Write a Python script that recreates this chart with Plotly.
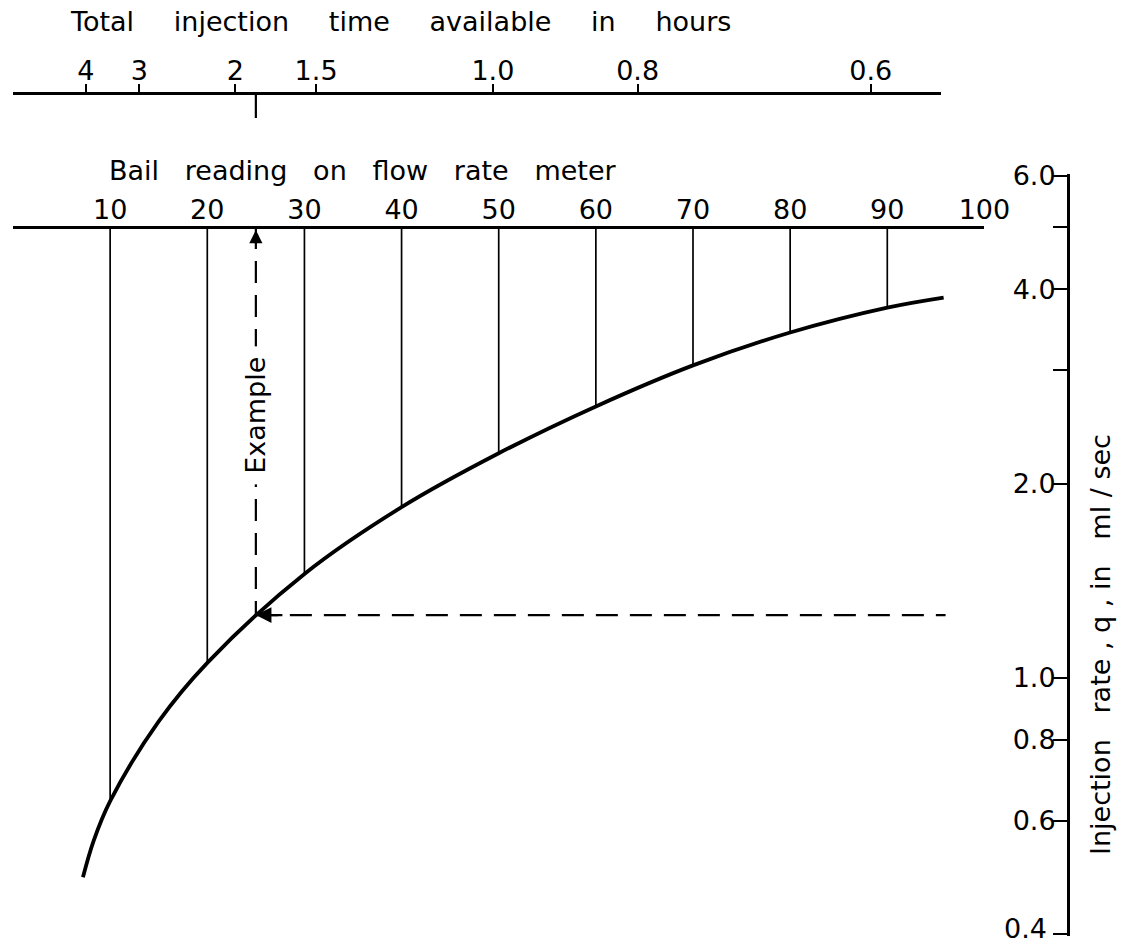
import math
import plotly.graph_objects as go

# ---------------- data ----------------
# Injection-rate curve: bail reading vs injection rate q (ml/sec)
curve_bail = [7.2, 8.3, 10, 15, 20, 30, 40, 50, 60, 70, 80, 90, 95.8]
curve_q = [0.49, 0.558, 0.643, 0.855, 1.054, 1.448, 1.838, 2.228, 2.634, 3.05, 3.43, 3.749, 3.886]

# Bail-reading marks and their q where the drop lines meet the curve
mark_bail = [10, 20, 30, 40, 50, 60, 70, 80, 90]
mark_q = [0.643, 1.054, 1.448, 1.838, 2.228, 2.634, 3.05, 3.43, 3.749]

# Bail scale tick labels
bail_ticks = [10, 20, 30, 40, 50, 60, 70, 80, 90, 100]

# Total-injection-time scale (hours), placed at equivalent bail readings
time_labels = ["4", "3", "2", "1.5", "1.0", "0.8", "0.6"]
time_pos_bail = [7.5, 13.0, 22.9, 31.2, 49.4, 64.3, 88.3]

# Injection-rate axis ticks (the bottom label 0.4 is set as a raised annotation)
q_ticks = [0.4, 0.6, 0.8, 1.0, 2.0, 3.0, 4.0, 5.0, 6.0]
q_ticktext = ["", "0.6", "0.8", "1.0", "2.0", "", "4.0", "", "6.0"]
q_bottom_label = "0.4"

# Worked example
example_bail = 25
example_q = 1.25
example_line_end = 96
bail_axis_q = 5.0      # level of the q-scale at which the bail scale is drawn

# ---------------- layout constants ----------------
W, H = 1124, 945
ML = 13
FONT = "DejaVu Sans"
FS = 27
x_main_end = 108.5
d_main = 0.9487
q_min, q_max = 0.4, 6.0
eps = 0.003
y_dom = [1 - 936 / H, 1 - 174 / H]
time_axis_pos = 1 - 93 / H
time_axis_end = 95.5


def q_to_paper(q):
    lo = math.log10(q_min) - eps
    hi = math.log10(q_max) + eps
    f = (math.log10(q) - lo) / (hi - lo)
    return y_dom[0] + f * (y_dom[1] - y_dom[0])


bail_axis_pos = q_to_paper(bail_axis_q)

fig = go.Figure()

# drop lines from the bail scale to the curve
vx, vy = [], []
for b, q in zip(mark_bail, mark_q):
    vx += [b, b, None]
    vy += [bail_axis_q, q, None]
fig.add_trace(go.Scatter(x=vx, y=vy, mode="lines", xaxis="x2", yaxis="y",
                         line=dict(color="black", width=1.7),
                         hoverinfo="skip", showlegend=False))

# main curve
fig.add_trace(go.Scatter(x=curve_bail, y=curve_q, mode="lines",
                         line=dict(color="black", width=3.8, shape="spline", smoothing=1.0),
                         hoverinfo="skip", showlegend=False))

# example dashed lines
fig.add_trace(go.Scatter(x=[example_bail, example_bail], y=[bail_axis_q, example_q], mode="lines",
                         line=dict(color="black", width=2.2, dash="22px,12px"),
                         hoverinfo="skip", showlegend=False))
fig.add_trace(go.Scatter(x=[example_bail, example_line_end], y=[example_q, example_q], mode="lines",
                         line=dict(color="black", width=2.2, dash="22px,12px"),
                         hoverinfo="skip", showlegend=False))

# carrier trace for the time scale axis
fig.add_trace(go.Scatter(x=time_pos_bail, y=[None] * len(time_pos_bail), mode="markers",
                         xaxis="x3", yaxis="y", hoverinfo="skip", showlegend=False,
                         marker=dict(opacity=0)))

axis_font = dict(family=FONT, size=FS, color="black")

fig.update_layout(
    template="none",
    width=W, height=H, autosize=False,
    margin=dict(l=ML, r=0, t=0, b=0, pad=0),
    paper_bgcolor="white", plot_bgcolor="rgba(0,0,0,0)",
    font=axis_font,
    xaxis=dict(domain=[0, d_main], range=[0, x_main_end], automargin=False,
               showline=False, showticklabels=False, ticks="", showgrid=False, zeroline=False),
    xaxis2=dict(domain=[0, d_main * 100 / x_main_end], range=[0, 100], anchor="free",
                position=bail_axis_pos, side="top", showline=True, linecolor="black", linewidth=2.6,
                tickmode="array", tickvals=bail_ticks, ticktext=[str(t) for t in bail_ticks],
                ticks="", ticklabelstandoff=-4,
                showgrid=False, zeroline=False, tickfont=axis_font, automargin=False),
    xaxis3=dict(domain=[0, d_main * time_axis_end / x_main_end], range=[0, time_axis_end], anchor="free",
                position=time_axis_pos, side="top", showline=True, linecolor="black", linewidth=2.6,
                tickmode="array", tickvals=time_pos_bail, ticktext=time_labels,
                ticks="outside", ticklen=8, tickwidth=2, tickcolor="black", ticklabelstandoff=-7,
                showgrid=False, zeroline=False, tickfont=axis_font, automargin=False),
    yaxis=dict(domain=y_dom, type="log",
               range=[math.log10(q_min) - eps, math.log10(q_max) + eps],
               anchor="x", side="right", showline=True, linecolor="black", linewidth=2.6,
               tickmode="array", tickvals=q_ticks, ticktext=q_ticktext,
               ticks="inside", ticklen=14, tickwidth=2.2, tickcolor="black",
               ticklabelposition="inside", ticklabeloverflow="allow",
               showgrid=False, zeroline=False, tickfont=axis_font, automargin=False),
)

sp_wide = "\u00a0\u00a0\u00a0\u2009 "
sp_mid = "\u00a0\u00a0 "
annotations = [
    dict(text=sp_wide.join(["Total", "injection", "time", "available", "in", "hours"]),
         xref="paper", yref="paper", x=(400 - ML) / (W - ML), y=1 - 22 / H,
         showarrow=False, font=axis_font, xanchor="center", yanchor="middle"),
    dict(text=sp_mid.join(["Bail", "reading", "on", "flow", "rate", "meter"]),
         xref="paper", yref="paper", x=(363 - ML) / (W - ML), y=1 - 170 / H,
         showarrow=False, font=axis_font, xanchor="center", yanchor="middle"),
    dict(text="Injection\u00a0\u00a0 rate ,\u00a0q ,\u00a0in\u00a0\u00a0 ml / sec",
         xref="paper", yref="paper", x=(1100 - ML) / (W - ML), y=1 - 645 / H,
         textangle=-90, showarrow=False, font=axis_font, xanchor="center", yanchor="middle"),
    # bottom label of the q scale, raised so that it stays on the page
    dict(text=q_bottom_label, xref="paper", yref="y", x=d_main, y=math.log10(q_min),
         xanchor="right", yanchor="middle", xshift=-18, yshift=6,
         showarrow=False, font=axis_font),
    dict(text="Example", xref="x", yref="paper", x=example_bail, y=1 - 415 / H,
         textangle=-90, showarrow=False, font=axis_font, bgcolor="white", borderpad=10,
         xanchor="center", yanchor="middle"),
    # arrow head at the bail scale
    dict(text="", xref="x", yref="y", x=example_bail, y=math.log10(bail_axis_q),
         ax=0, ay=18, showarrow=True, arrowhead=2, arrowsize=1.2, arrowwidth=2.2,
         arrowcolor="black", standoff=3),
    # arrow head at the curve
    dict(text="", xref="x", yref="y", x=example_bail, y=math.log10(example_q),
         ax=28, ay=0, showarrow=True, arrowhead=2, arrowsize=1.3, arrowwidth=2.4,
         arrowcolor="black", standoff=0),
]
fig.update_layout(annotations=annotations)

# small example marker below the time scale
fig.add_shape(type="line", xref="x", yref="paper", x0=example_bail, x1=example_bail,
              y0=time_axis_pos - 25 / H, y1=time_axis_pos, line=dict(color="black", width=2.2))

fig.write_html("out.html")
